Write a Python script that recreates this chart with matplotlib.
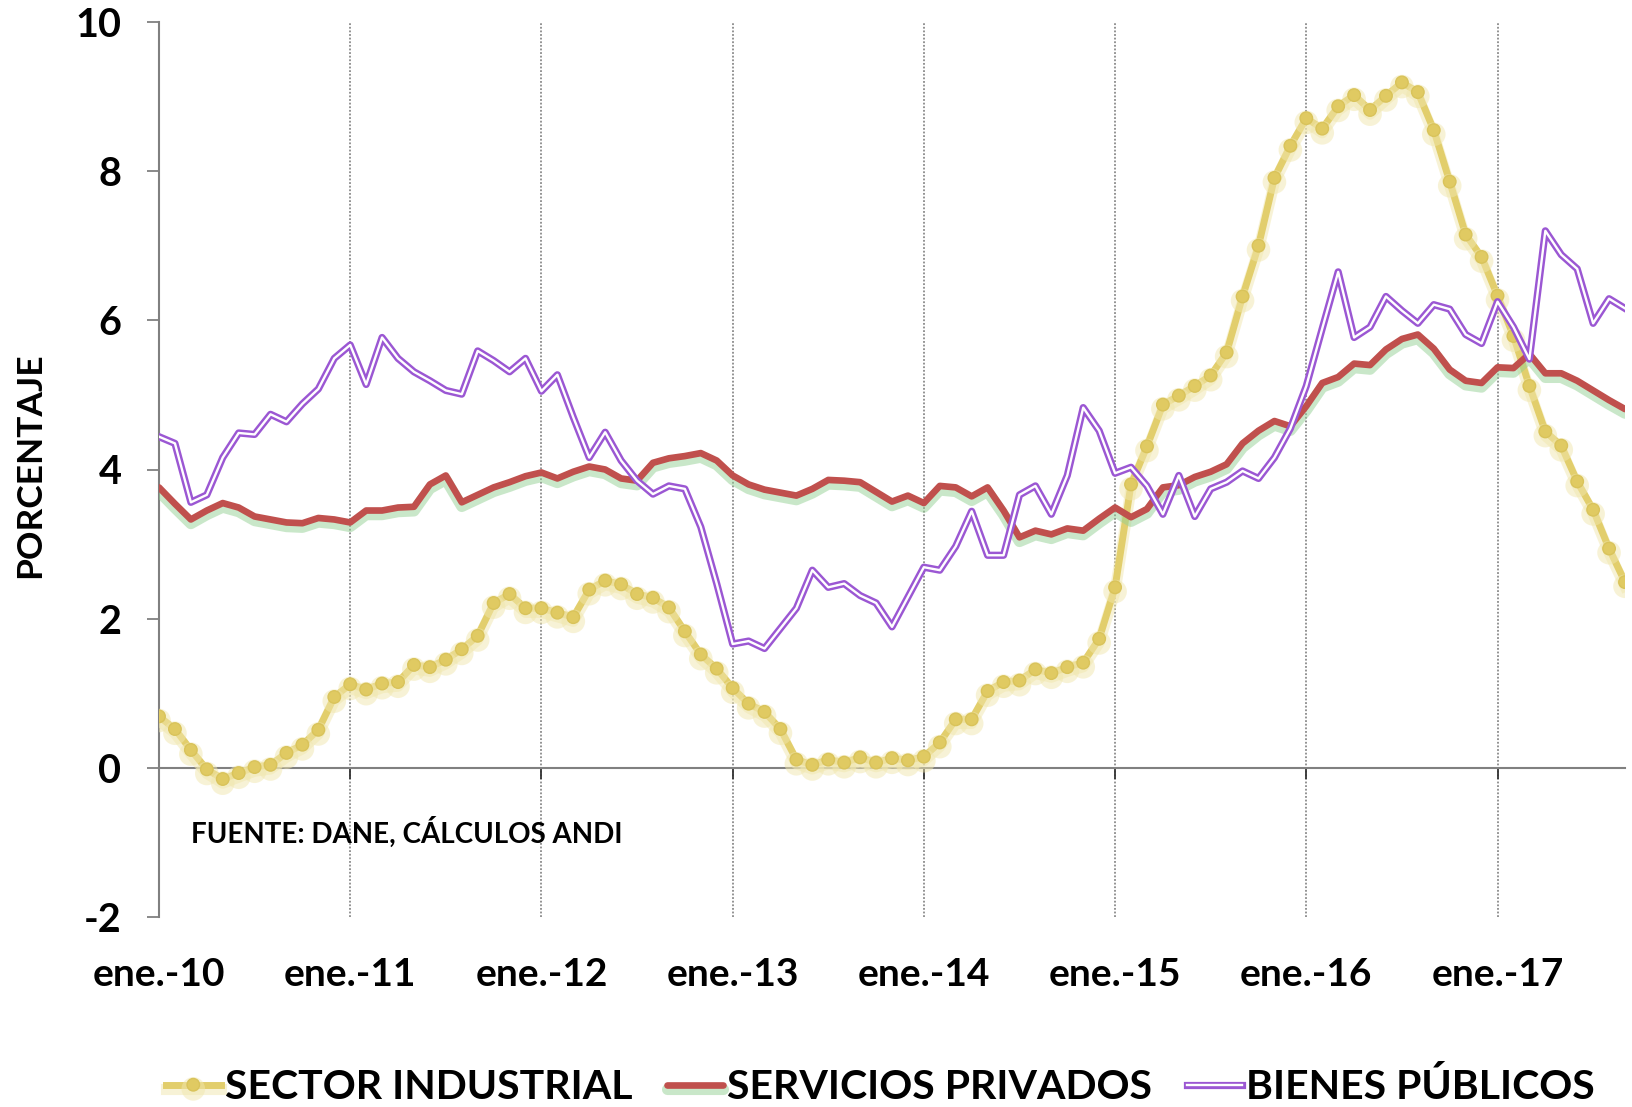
import matplotlib
matplotlib.use("Agg")
import matplotlib.pyplot as plt
import matplotlib.patheffects as pe
import numpy as np

plt.rcParams['font.family'] = ['Lato', 'DejaVu Sans']
plt.rcParams['font.weight'] = 'bold'

# monthly series, ene-2010 .. sep-2017
sector_industrial = [
    0.69, 0.52, 0.24, -0.02, -0.15, -0.07, 0.01, 0.04, 0.20, 0.31, 0.51, 0.95,
    1.12, 1.05, 1.13, 1.15, 1.38, 1.35, 1.45, 1.59, 1.77, 2.21, 2.33, 2.14,
    2.14, 2.08, 2.02, 2.39, 2.51, 2.46, 2.33, 2.28, 2.15, 1.83, 1.52, 1.33,
    1.07, 0.86, 0.75, 0.52, 0.11, 0.04, 0.11, 0.07, 0.14, 0.07, 0.13, 0.10,
    0.15, 0.34, 0.65, 0.65, 1.03, 1.15, 1.17, 1.32, 1.27, 1.35, 1.41, 1.73,
    2.42, 3.80, 4.31, 4.87, 4.99, 5.12, 5.26, 5.57, 6.32, 7.00, 7.91, 8.34,
    8.71, 8.57, 8.87, 9.02, 8.82, 9.01, 9.19, 9.06, 8.55, 7.86, 7.15, 6.85,
    6.33, 5.79, 5.12, 4.51, 4.32, 3.84, 3.46, 2.94, 2.49,
]
servicios_privados = [
    3.76, 3.54, 3.33, 3.45, 3.55, 3.49, 3.37, 3.33, 3.29, 3.28, 3.35, 3.33,
    3.29, 3.45, 3.45, 3.49, 3.50, 3.80, 3.92, 3.56, 3.66, 3.76, 3.83, 3.91,
    3.96, 3.88, 3.97, 4.04, 4.00, 3.88, 3.85, 4.09, 4.15, 4.18, 4.22, 4.12,
    3.92, 3.80, 3.73, 3.69, 3.65, 3.74, 3.86, 3.85, 3.83, 3.70, 3.57, 3.65,
    3.55, 3.78, 3.76, 3.64, 3.76, 3.45, 3.09, 3.18, 3.13, 3.21, 3.18, 3.34,
    3.49, 3.36, 3.47, 3.76, 3.79, 3.90, 3.97, 4.07, 4.35, 4.52, 4.65, 4.58,
    4.85, 5.16, 5.24, 5.42, 5.40, 5.61, 5.75, 5.81, 5.62, 5.34, 5.19, 5.16,
    5.37, 5.36, 5.55, 5.29, 5.29, 5.19, 5.06, 4.93, 4.81,
]
bienes_publicos = [
    4.44, 4.35, 3.56, 3.66, 4.16, 4.49, 4.47, 4.74, 4.64, 4.88, 5.08, 5.49,
    5.67, 5.14, 5.77, 5.49, 5.31, 5.19, 5.06, 5.01, 5.59, 5.46, 5.31, 5.49,
    5.05, 5.27, 4.70, 4.16, 4.50, 4.12, 3.85, 3.67, 3.78, 3.74, 3.23, 2.47,
    1.66, 1.70, 1.60, 1.87, 2.14, 2.65, 2.42, 2.47, 2.31, 2.21, 1.89, 2.29,
    2.69, 2.65, 2.97, 3.44, 2.85, 2.85, 3.66, 3.78, 3.40, 3.92, 4.83, 4.52,
    3.95, 4.03, 3.78, 3.40, 3.92, 3.37, 3.74, 3.83, 3.98, 3.88, 4.16, 4.55,
    5.12, 5.89, 6.65, 5.77, 5.91, 6.32, 6.13, 5.96, 6.21, 6.15, 5.81, 5.69,
    6.25, 5.91, 5.48, 7.20, 6.88, 6.69, 5.96, 6.29, 6.16,
]
year_labels = ['ene.-10', 'ene.-11', 'ene.-12', 'ene.-13',
               'ene.-14', 'ene.-15', 'ene.-16', 'ene.-17']
y_ticks = [-2, 0, 2, 4, 6, 8, 10]

months = np.arange(len(sector_industrial))
year_pos = np.arange(len(year_labels)) * 12

yellow = '#E2CE6C'
red = '#C0504D'
purple = '#9B57D3'
grey = '#808080'

fig = plt.figure(figsize=(16.33, 11.07), dpi=100)
ax = fig.add_axes([159 / 1633, 1 - 917 / 1107, (1625 - 159) / 1633, (917 - 22) / 1107])

# year gridlines
ax.vlines(year_pos[1:], -2, 10, colors='#8a8a8a', linestyles=(0, (1, 1)), lw=1.3, zorder=1)

ax.plot(months, sector_industrial, color=yellow, lw=5, marker='o', ms=9,
        mfc='#E0CA62', mec='#D9C35A', mew=1, label='SECTOR INDUSTRIAL', zorder=3,
        path_effects=[pe.SimpleLineShadow(offset=(0, -3), shadow_color='#F1E7AE', alpha=0.5, linewidth=8),
                      pe.Normal()])
ax.plot(months, servicios_privados, color=red, lw=4.8, label='SERVICIOS PRIVADOS', zorder=4,
        solid_joinstyle='round', solid_capstyle='round',
        path_effects=[pe.SimpleLineShadow(offset=(0, -3), shadow_color='#94D094', alpha=0.5, linewidth=8),
                      pe.Normal()])
ax.plot(months, bienes_publicos, color='white', lw=1.7, label='BIENES PÚBLICOS', zorder=5,
        path_effects=[pe.Stroke(linewidth=5.2, foreground=purple), pe.Normal()])

ax.set_xlim(0, len(months) - 1)
ax.set_ylim(-2, 10)
ax.set_yticks(y_ticks)
ax.set_yticklabels([str(t) for t in y_ticks])
ax.set_xticks(year_pos)
ax.set_xticklabels(year_labels)

for s in ['top', 'right']:
    ax.spines[s].set_visible(False)
ax.spines['bottom'].set_position(('data', 0))
ax.spines['bottom'].set_color(grey)
ax.spines['left'].set_color(grey)
ax.spines['bottom'].set_linewidth(1.5)
ax.spines['left'].set_linewidth(1.5)

ax.tick_params(axis='y', direction='out', length=9, width=1.3, color=grey,
               labelsize=28.5, pad=18)
ax.tick_params(axis='x', direction='out', length=8, width=1.3, color='#333333',
               labelsize=28, pad=128)

fig.text(30 / 1633, 1 - 465 / 1107, 'PORCENTAJE', rotation=90, fontsize=25.5,
         fontweight='bold', ha='center', va='center')
ax.text(2.0, -0.87, 'FUENTE: DANE, CÁLCULOS ANDI', fontsize=20, fontweight='bold',
        ha='left', va='center')

fig.legend(loc='center', bbox_to_anchor=(0.539, 0.018), ncol=3, frameon=False,
           fontsize=29.5, handlelength=1.35, handletextpad=0.1, columnspacing=0.85)

fig.savefig('out.png', dpi=100)
